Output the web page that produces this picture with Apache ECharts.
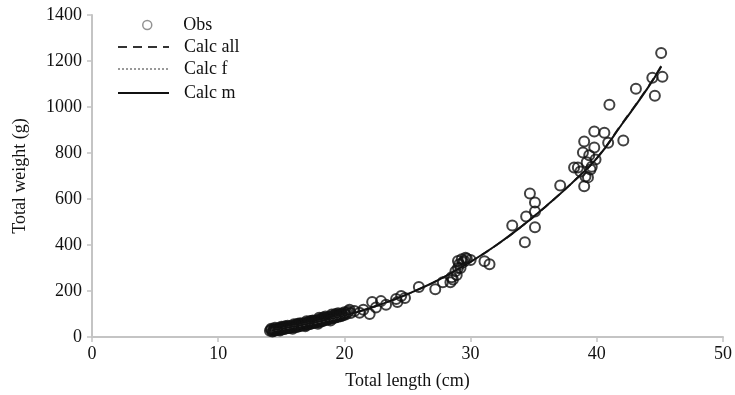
<!DOCTYPE html>
<html>
<head>
<meta charset="utf-8">
<style>
  html, body { margin: 0; padding: 0; background: #fff; }
  #lwChart { width: 735px; height: 395px; }
</style>
<script src="https://cdn.jsdelivr.net/npm/echarts@6/dist/echarts.min.js"></script>
</head>
<body>
<div id="lwChart"></div>
<script>
// observed fish: [total length (cm), total weight (g)]
var obs = [
  [14.1, 27], [14.2, 31], [14.3, 24], [14.4, 33], [14.5, 29], [14.6, 36], [14.7, 31], [14.8, 38],
  [14.9, 34], [15.0, 40], [15.0, 33], [15.1, 37], [15.2, 42], [15.3, 36], [15.4, 44], [15.5, 39],
  [15.6, 46], [15.7, 40], [15.8, 48], [15.9, 43], [16.0, 50], [16.0, 42], [16.1, 47], [16.2, 53],
  [16.3, 45], [16.4, 55], [16.5, 49], [16.6, 57], [16.7, 51], [16.8, 60], [16.9, 54], [17.0, 62],
  [17.0, 52], [17.1, 58], [17.2, 65], [17.3, 57], [17.4, 68], [17.5, 61], [17.6, 70], [17.7, 63],
  [17.8, 73], [17.9, 66], [18.0, 76], [18.0, 64], [18.1, 71], [18.2, 79], [18.3, 69], [18.4, 82],
  [18.5, 74], [18.6, 84], [18.7, 76], [18.8, 88], [18.9, 79], [19.0, 90], [19.1, 82], [19.2, 93],
  [19.3, 85], [19.4, 95], [19.5, 88], [19.6, 98], [19.7, 90], [19.8, 102], [19.9, 94], [20.0, 108],
  [20.1, 98], [20.3, 112], [20.5, 104],
  [14.2, 36], [14.4, 26], [14.6, 30], [14.8, 32], [15.0, 45], [15.2, 35], [15.4, 38], [15.6, 40],
  [15.8, 42], [16.0, 55], [16.2, 44], [16.4, 48], [16.6, 50], [16.8, 53], [17.0, 68], [17.2, 56],
  [17.4, 60], [17.6, 63], [17.8, 66], [18.0, 84], [18.2, 70], [18.4, 74], [18.6, 77], [18.8, 80],
  [19.0, 98], [19.2, 86], [19.4, 88], [19.6, 91], [19.8, 95], [20.0, 100], [20.2, 105], [20.4, 118],
  [15.3, 47], [16.5, 60], [17.5, 72], [18.5, 89], [19.5, 103],
  [14.5, 40], [15.5, 49], [16.3, 58], [17.3, 70], [18.3, 85], [19.3, 100], [14.9, 28], [15.9, 36],
  [16.9, 47], [17.9, 58], [18.9, 72],
  [20.8, 113], [21.2, 105], [21.5, 118], [22.0, 100],
  [22.2, 152], [22.5, 128], [22.9, 156], [23.3, 140], [24.1, 165], [24.2, 152], [24.5, 178],
  [24.8, 170], [25.9, 217], [27.2, 208], [27.8, 238], [28.4, 238], [28.5, 260], [28.6, 250],
  [28.8, 286], [28.9, 270], [29.0, 300], [29.0, 330], [29.1, 316], [29.2, 300], [29.3, 338],
  [29.4, 325], [29.5, 330], [29.6, 345], [29.7, 340], [30.0, 335], [31.1, 329], [31.5, 316],
  [33.3, 485], [34.3, 412], [34.4, 524], [34.7, 624], [35.1, 585], [35.1, 546], [35.1, 477],
  [37.1, 659], [38.2, 737], [38.5, 737], [38.7, 720], [39.0, 655], [39.1, 698], [39.2, 760],
  [39.3, 694], [39.4, 790], [39.5, 728], [39.6, 740], [39.9, 772], [38.9, 802], [39.8, 824],
  [40.9, 845], [39.0, 850], [42.1, 854], [40.6, 888], [39.8, 893], [41.0, 1010], [44.6, 1049],
  [43.1, 1079], [44.4, 1127], [45.2, 1131], [45.1, 1235]
];

// fitted curves
var calcLen = [14.2, 16, 18, 20, 22, 24, 26, 28, 30, 32, 34, 36, 38, 40, 42, 44, 45.1];
var calcAll = [28, 46, 67, 93, 125, 164, 210, 264, 327, 398, 479, 570, 668, 778, 928, 1082, 1178];
var calcF = [28, 45, 66, 92, 124, 163, 209, 263, 326, 397, 478, 569, 667, 776, 925, 1078, 1172];
var calcM = [28, 46, 67, 93, 125, 164, 210, 264, 327, 398, 479, 570, 668, 777, 926, 1080, 1175];

var xTicks = [0, 10, 20, 30, 40, 50];
var yTicks = [0, 200, 400, 600, 800, 1000, 1200, 1400];

function pairs(xs, ys) {
  return xs.map(function (x, i) { return [x, ys[i]]; });
}

var serif = '"Liberation Serif", "Times New Roman", serif';
var axisGrey = '#c4c4c4';
var fs = 18;

function legendItem(name, left, top, w, h, pad, hideSymbol) {
  var lg = {
    data: [name],
    left: left,
    top: top,
    padding: 0,
    itemWidth: w,
    itemHeight: h,
    selectedMode: false,
    textStyle: { fontFamily: serif, fontSize: fs, color: '#111', padding: [0, 0, 0, pad] }
  };
  if (hideSymbol) {
    lg.itemStyle = { color: 'transparent', borderColor: 'transparent', borderWidth: 0 };
  } else {
    lg.itemStyle = { color: 'transparent', borderColor: '#777', borderWidth: 1.5 };
  }
  return lg;
}

var myChart = echarts.init(document.getElementById('lwChart'));
var option = {
  animation: false,
  backgroundColor: '#fff',
  textStyle: { fontFamily: serif },
  grid: { left: 92, right: 7, top: 15, bottom: 57 },
  legend: [
    legendItem('Obs', 142, 16, 52, 9, 5, false),
    legendItem('Calc all', 117, 38, 51, 14, 10, true),
    legendItem('Calc f', 117, 60, 51, 14, 10, true),
    legendItem('Calc m', 117, 84, 51, 14, 10, true)
  ],
  xAxis: {
    type: 'value',
    min: xTicks[0],
    max: xTicks[xTicks.length - 1],
    interval: 10,
    name: 'Total length (cm)',
    nameLocation: 'middle',
    nameGap: 35,
    nameTextStyle: { fontFamily: serif, fontSize: fs, color: '#111' },
    axisLine: { lineStyle: { color: axisGrey, width: 2 } },
    axisTick: { show: true, length: 5, lineStyle: { color: axisGrey, width: 1.5 } },
    axisLabel: { fontFamily: serif, fontSize: fs, color: '#111', margin: 8 },
    splitLine: { show: false }
  },
  yAxis: {
    type: 'value',
    min: yTicks[0],
    max: yTicks[yTicks.length - 1],
    interval: 200,
    name: 'Total weight (g)',
    nameLocation: 'middle',
    nameGap: 63,
    nameTextStyle: { fontFamily: serif, fontSize: fs, color: '#111' },
    axisLine: { show: true, lineStyle: { color: axisGrey, width: 2 } },
    axisTick: { show: true, length: 5, lineStyle: { color: axisGrey, width: 1.5 } },
    axisLabel: {
      fontFamily: serif, fontSize: fs, color: '#111', margin: 10,
      formatter: function (v) { return String(v); }
    },
    splitLine: { show: false }
  },
  series: [
    {
      name: 'Obs',
      type: 'scatter',
      data: obs,
      symbol: 'circle',
      symbolSize: 10,
      itemStyle: { color: 'rgba(255,255,255,0)', borderColor: '#111', borderWidth: 2 }
    },
    {
      name: 'Calc all',
      type: 'line',
      data: pairs(calcLen, calcAll),
      smooth: true,
      symbol: 'none',
      itemStyle: { color: '#333' },
      lineStyle: { color: '#333', width: 2, type: [9, 6] }
    },
    {
      name: 'Calc f',
      type: 'line',
      data: pairs(calcLen, calcF),
      smooth: true,
      symbol: 'none',
      itemStyle: { color: '#999' },
      lineStyle: { color: '#999', width: 1.5, type: [2, 2] }
    },
    {
      name: 'Calc m',
      type: 'line',
      data: pairs(calcLen, calcM),
      smooth: true,
      symbol: 'none',
      itemStyle: { color: '#111' },
      lineStyle: { color: '#111', width: 2 }
    }
  ]
};
myChart.setOption(option);
</script>
</body>
</html>
